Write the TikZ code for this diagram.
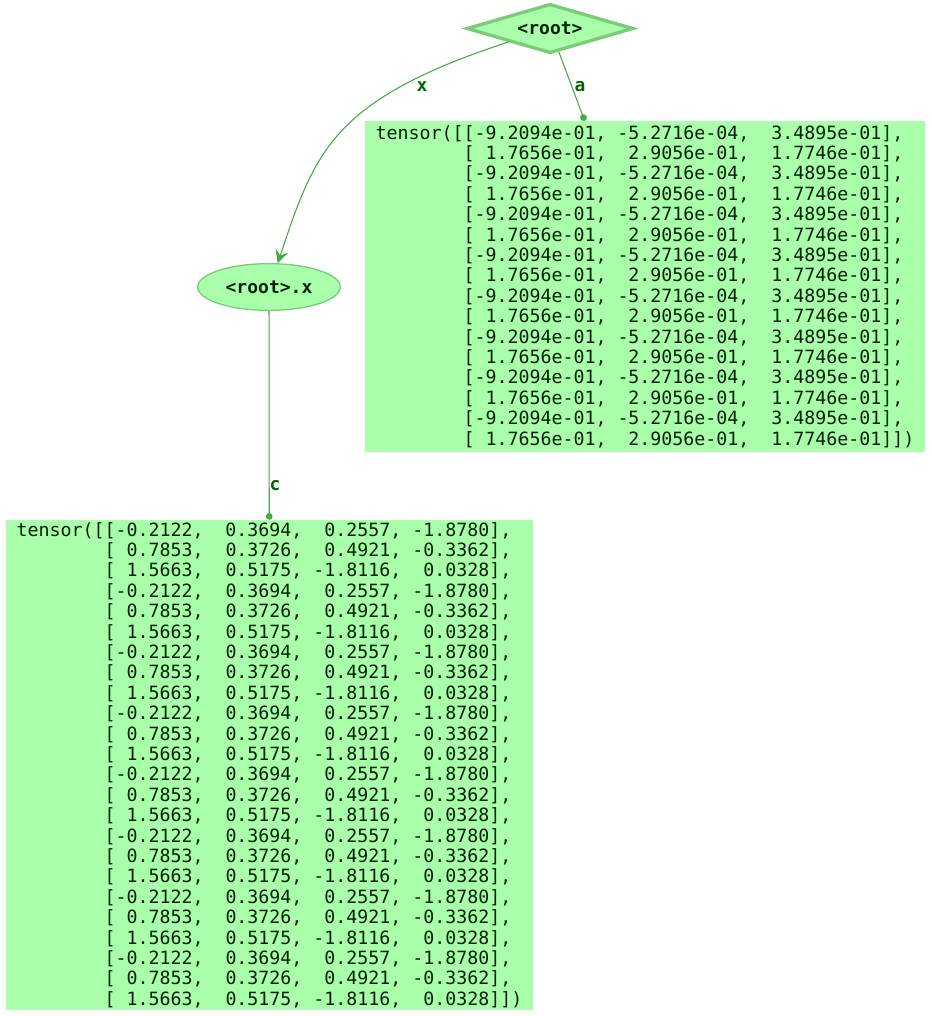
\documentclass[tikz,border=0pt]{standalone}
\usepackage{fontspec}
\setmonofont{DejaVu Sans Mono}
\usetikzlibrary{shapes.geometric,arrows.meta}
\definecolor{nodefill}{HTML}{AAFFAA}
\definecolor{nodeline}{HTML}{7ACC7A}
\definecolor{linkcolor}{HTML}{44AA44}
\definecolor{labelgreen}{HTML}{006600}
\definecolor{nodetext}{HTML}{002200}
\begin{document}
\begin{tikzpicture}[x=0.75pt, y=-0.75pt,
    tensorbox/.style={rectangle, fill=nodefill, inner sep=0pt, align=left, text=nodetext,
      font=\ttfamily\fontsize{13.7}{15.3}\selectfont},
    namelabel/.style={fill=nodefill, draw=nodeline, inner sep=0pt, text=nodetext,
      font=\ttfamily\bfseries\fontsize{13.5}{16}\selectfont},
    edgelabel/.style={inner sep=0pt, text=labelgreen,
      font=\ttfamily\bfseries\fontsize{13.5}{16}\selectfont},
    link/.style={draw=linkcolor, line width=0.8pt}]
    \useasboundingbox (0,0) rectangle (931,1016);

    \node[namelabel, diamond, line width=2.5pt, aspect=3.4, minimum width=125pt, minimum height=37pt] at (550, 28.5) (root) {<root>};
    \node[namelabel, ellipse, line width=1pt, minimum width=107pt, minimum height=35pt] at (269, 287) (rootx) {<root>.x};

    \node[tensorbox, minimum width=420pt, minimum height=248.25pt] at (645, 286.5) (ta) {%
tensor([[-9.2094e-01,~-5.2716e-04,~~3.4895e-01],\\
~~~~~~~~[~1.7656e-01,~~2.9056e-01,~~1.7746e-01],\\
~~~~~~~~[-9.2094e-01,~-5.2716e-04,~~3.4895e-01],\\
~~~~~~~~[~1.7656e-01,~~2.9056e-01,~~1.7746e-01],\\
~~~~~~~~[-9.2094e-01,~-5.2716e-04,~~3.4895e-01],\\
~~~~~~~~[~1.7656e-01,~~2.9056e-01,~~1.7746e-01],\\
~~~~~~~~[-9.2094e-01,~-5.2716e-04,~~3.4895e-01],\\
~~~~~~~~[~1.7656e-01,~~2.9056e-01,~~1.7746e-01],\\
~~~~~~~~[-9.2094e-01,~-5.2716e-04,~~3.4895e-01],\\
~~~~~~~~[~1.7656e-01,~~2.9056e-01,~~1.7746e-01],\\
~~~~~~~~[-9.2094e-01,~-5.2716e-04,~~3.4895e-01],\\
~~~~~~~~[~1.7656e-01,~~2.9056e-01,~~1.7746e-01],\\
~~~~~~~~[-9.2094e-01,~-5.2716e-04,~~3.4895e-01],\\
~~~~~~~~[~1.7656e-01,~~2.9056e-01,~~1.7746e-01],\\
~~~~~~~~[-9.2094e-01,~-5.2716e-04,~~3.4895e-01],\\
~~~~~~~~[~1.7656e-01,~~2.9056e-01,~~1.7746e-01]])};

    \node[tensorbox, minimum width=395.25pt, minimum height=367.5pt] at (269.5, 765) (tc) {%
tensor([[-0.2122,~~0.3694,~~0.2557,~-1.8780],\\
~~~~~~~~[~0.7853,~~0.3726,~~0.4921,~-0.3362],\\
~~~~~~~~[~1.5663,~~0.5175,~-1.8116,~~0.0328],\\
~~~~~~~~[-0.2122,~~0.3694,~~0.2557,~-1.8780],\\
~~~~~~~~[~0.7853,~~0.3726,~~0.4921,~-0.3362],\\
~~~~~~~~[~1.5663,~~0.5175,~-1.8116,~~0.0328],\\
~~~~~~~~[-0.2122,~~0.3694,~~0.2557,~-1.8780],\\
~~~~~~~~[~0.7853,~~0.3726,~~0.4921,~-0.3362],\\
~~~~~~~~[~1.5663,~~0.5175,~-1.8116,~~0.0328],\\
~~~~~~~~[-0.2122,~~0.3694,~~0.2557,~-1.8780],\\
~~~~~~~~[~0.7853,~~0.3726,~~0.4921,~-0.3362],\\
~~~~~~~~[~1.5663,~~0.5175,~-1.8116,~~0.0328],\\
~~~~~~~~[-0.2122,~~0.3694,~~0.2557,~-1.8780],\\
~~~~~~~~[~0.7853,~~0.3726,~~0.4921,~-0.3362],\\
~~~~~~~~[~1.5663,~~0.5175,~-1.8116,~~0.0328],\\
~~~~~~~~[-0.2122,~~0.3694,~~0.2557,~-1.8780],\\
~~~~~~~~[~0.7853,~~0.3726,~~0.4921,~-0.3362],\\
~~~~~~~~[~1.5663,~~0.5175,~-1.8116,~~0.0328],\\
~~~~~~~~[-0.2122,~~0.3694,~~0.2557,~-1.8780],\\
~~~~~~~~[~0.7853,~~0.3726,~~0.4921,~-0.3362],\\
~~~~~~~~[~1.5663,~~0.5175,~-1.8116,~~0.0328],\\
~~~~~~~~[-0.2122,~~0.3694,~~0.2557,~-1.8780],\\
~~~~~~~~[~0.7853,~~0.3726,~~0.4921,~-0.3362],\\
~~~~~~~~[~1.5663,~~0.5175,~-1.8116,~~0.0328]])};

    \node[edgelabel] at (422, 87)  (lx) {x};
    \node[edgelabel] at (580, 87)  (la) {a};
    \node[edgelabel] at (275, 486) (lc) {c};

    \draw[link, -{Stealth[inset=4pt, length=10pt, width=10pt]}] (root.198) .. controls (331, 100) and (315, 152) .. (rootx.70);
    \draw[link, -{Circle[length=5pt]}] (root) -- (ta.110.5);
    \draw[link, -{Circle[length=5pt]}] (rootx) -- (tc);
\end{tikzpicture}
\end{document}
